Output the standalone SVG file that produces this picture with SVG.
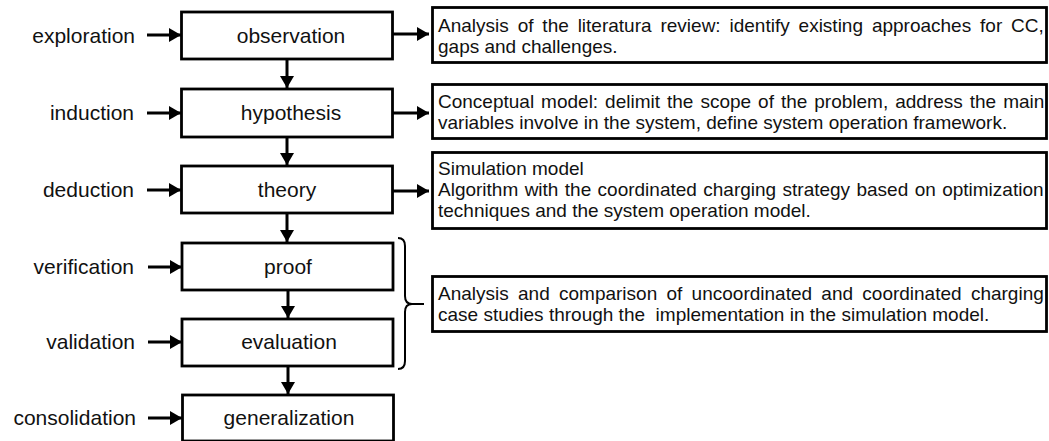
<svg xmlns="http://www.w3.org/2000/svg" width="1049" height="441" viewBox="0 0 1049 441">
<style>
.box{fill:#fff;stroke:#000;stroke-width:2.8}
.lbl{font-family:"Liberation Sans",Arial,sans-serif;font-size:21px;fill:#111}
.node{font-family:"Liberation Sans",Arial,sans-serif;font-size:21px;fill:#111;text-anchor:middle}
.desc{font-family:"Liberation Sans",Arial,sans-serif;font-size:19px;fill:#111}
.arr{stroke:#000;stroke-width:3;fill:none;marker-end:url(#ah)}
</style>
<defs>
<marker id="ah" markerUnits="userSpaceOnUse" markerWidth="13" markerHeight="14" refX="12" refY="7" orient="auto" viewBox="0 0 13 14">
<path d="M0,0 L12,7 L0,14 z" fill="#000"/>
</marker>
</defs>
<rect width="1049" height="441" fill="#fff"/>

<g id="lbl-exploration"><text class="lbl" x="135" y="42.5" text-anchor="end">exploration</text></g>
<g id="lbl-induction"><text class="lbl" x="134" y="120" text-anchor="end">induction</text></g>
<g id="lbl-deduction"><text class="lbl" x="134" y="197" text-anchor="end">deduction</text></g>
<g id="lbl-verification"><text class="lbl" x="134" y="274" text-anchor="end">verification</text></g>
<g id="lbl-validation"><text class="lbl" x="135" y="349" text-anchor="end">validation</text></g>
<g id="lbl-consolidation"><text class="lbl" x="136" y="425" text-anchor="end">consolidation</text></g>

<g id="observation"><rect class="box" x="181.5" y="12" width="211" height="47"/><text class="node" x="291" y="42.5">observation</text></g>
<g id="hypothesis"><rect class="box" x="181.5" y="89" width="211" height="48"/><text class="node" x="291" y="119.5">hypothesis</text></g>
<g id="theory"><rect class="box" x="181.5" y="166" width="211" height="47"/><text class="node" x="287" y="196.5">theory</text></g>
<g id="proof"><rect class="box" x="182" y="243" width="211" height="47"/><text class="node" x="288" y="273.5">proof</text></g>
<g id="evaluation"><rect class="box" x="182" y="319" width="211" height="47"/><text class="node" x="289" y="349">evaluation</text></g>
<g id="generalization"><rect class="box" x="182.5" y="395" width="211" height="46"/><text class="node" x="289" y="425">generalization</text></g>

<g id="desc-observation"><rect class="box" x="432.5" y="7.5" width="614" height="55"/>
<text class="desc" x="438" y="32" word-spacing="3.6">Analysis of the literatura review: identify existing approaches for CC,</text>
<text class="desc" x="438" y="53">gaps and challenges.</text></g>
<g id="desc-hypothesis"><rect class="box" x="432.5" y="84.5" width="614" height="54"/>
<text class="desc" x="438" y="108" word-spacing="1.7">Conceptual model: delimit the scope of the problem, address the main</text>
<text class="desc" x="438" y="129">variables involve in the system, define system operation framework.</text></g>
<g id="desc-theory"><rect class="box" x="432.5" y="152.5" width="614" height="76"/>
<text class="desc" x="438" y="175">Simulation model</text>
<text class="desc" x="438" y="196" word-spacing="1.1">Algorithm with the coordinated charging strategy based on optimization</text>
<text class="desc" x="438" y="217">techniques and the system operation model.</text></g>
<g id="desc-evaluation"><rect class="box" x="432.5" y="276.5" width="614" height="55"/>
<text class="desc" x="438" y="300" word-spacing="4">Analysis and comparison of uncoordinated and coordinated charging</text>
<text class="desc" x="438" y="321" xml:space="preserve">case studies through the  implementation in the simulation model.</text></g>

<g id="brace"><path d="M398,238 Q405,238 405,246 L405,296 Q405,304 412,304 Q405,304 405,312 L405,361 Q405,369 398,369 M412,304 L424,304" fill="none" stroke="#000" stroke-width="2"/></g>

<g id="connectors">
<line class="arr" x1="147" y1="35" x2="181" y2="35"/>
<line class="arr" x1="147" y1="113" x2="181" y2="113"/>
<line class="arr" x1="147" y1="190" x2="181" y2="190"/>
<line class="arr" x1="148" y1="267" x2="182" y2="267"/>
<line class="arr" x1="148" y1="342" x2="182" y2="342"/>
<line class="arr" x1="148" y1="418" x2="182" y2="418"/>
<line class="arr" x1="393" y1="34" x2="429" y2="34"/>
<line class="arr" x1="393" y1="113" x2="429" y2="113"/>
<line class="arr" x1="393" y1="191" x2="429" y2="191"/>
<line class="arr" x1="287" y1="59" x2="287" y2="88"/>
<line class="arr" x1="287" y1="137" x2="287" y2="165"/>
<line class="arr" x1="287" y1="213" x2="287" y2="242"/>
<line class="arr" x1="288" y1="290" x2="288" y2="318"/>
<line class="arr" x1="288" y1="366" x2="288" y2="394"/>
</g>
</svg>
